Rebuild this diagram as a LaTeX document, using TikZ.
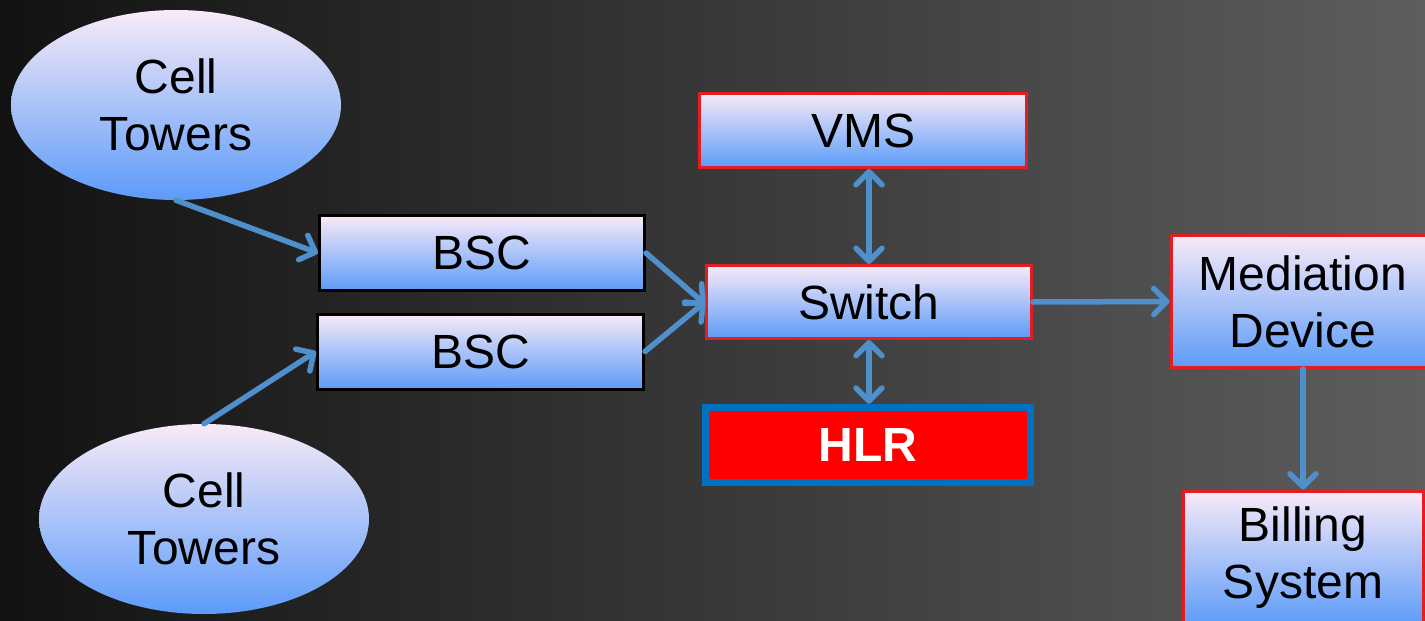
\documentclass[tikz,border=0pt]{standalone}
\usepackage{fontspec}
\setmainfont{Liberation Sans}
\usetikzlibrary{arrows.meta,shapes.geometric}
\definecolor{bgleft}{HTML}{121212}
\definecolor{bgright}{HTML}{5E5E5E}
\definecolor{filltop}{HTML}{F8EAF8}
\definecolor{fillmid}{HTML}{8DC2F8}
\definecolor{fillbot}{HTML}{5C9BF8}
\definecolor{linkblue}{HTML}{4F8FCB}
\definecolor{edgered}{HTML}{E41E20}
\definecolor{hlrblue}{HTML}{0070C0}
\definecolor{hlrred}{HTML}{FF0000}
\tikzset{
  bluefill/.style={top color=filltop, middle color=fillmid, bottom color=fillbot},
  label font/.style={font=\fontsize{48}{57}\selectfont, text=black, align=center},
  tower/.style={ellipse, bluefill, label font, minimum width=330pt, minimum height=190pt, inner sep=0pt},
  blackbox/.style={rectangle, bluefill, label font, draw=black, line width=3pt, inner sep=0pt},
  redbox/.style={rectangle, bluefill, label font, draw=edgered, line width=3pt, inner sep=0pt},
  hlrbox/.style={rectangle, fill=hlrred, draw=hlrblue, line width=7.5pt, inner sep=0pt,
    font=\fontsize{48}{57}\selectfont\bfseries, text=white},
  link/.style={draw=linkblue, line width=5.5pt, line cap=round,
    -{Straight Barb[length=13pt,width=26pt,round]}},
  duplex/.style={link, {Straight Barb[length=13pt,width=26pt,round]}-{Straight Barb[length=13pt,width=26pt,round]}}
}
\begin{document}
\begin{tikzpicture}[x=1pt,y=-1pt]
  % canvas and backdrop
  \useasboundingbox (0,0) rectangle (1425,621);
  \clip (0,0) rectangle (1425,621);
  \shade[left color=bgleft, right color=bgright] (0,0) rectangle (1425,621);

  % radio side
  \node[tower] (towerA) at (176,105) {Cell\\Towers};
  \node[tower] (towerB) at (204,519) {Cell\\Towers};
  \node[blackbox, minimum width=325pt, minimum height=75pt] (bscA) at (482,253) {BSC};
  \node[blackbox, minimum width=326pt, minimum height=75pt] (bscB) at (480.5,351.5) {BSC};

  % core network
  \node[redbox, minimum width=327pt, minimum height=74pt] (vms) at (863,130.5) {VMS};
  \node[redbox, minimum width=325pt, minimum height=73pt] (switch) at (869,302) {Switch};
  \node[hlrbox, minimum width=325pt, minimum height=75pt] (hlr) at (868,445) {HLR};

  % billing chain
  \node[redbox, minimum width=264pt, minimum height=132pt] (mediation) at (1303,301.5) {Mediation\\Device};
  \node[redbox, minimum width=240pt, minimum height=134pt] (billing) at (1303,558) {Billing\\System};

  % connectors
  \draw[link] (towerA.south) -- (bscA.west);
  \draw[link] (towerB.north) -- (bscB.west);
  \draw[link] (bscA.east) -- ([yshift=-2pt]switch.west);
  \draw[link] (bscB.east) -- (switch.west);
  \draw[duplex] (vms.south -| switch.north) -- (switch.north);
  \draw[duplex] (switch.south) -- (hlr.north -| switch.south);
  \draw[link] (switch.east) -- (mediation.west);
  \draw[link] (mediation.south) -- (billing.north);
\end{tikzpicture}
\end{document}
